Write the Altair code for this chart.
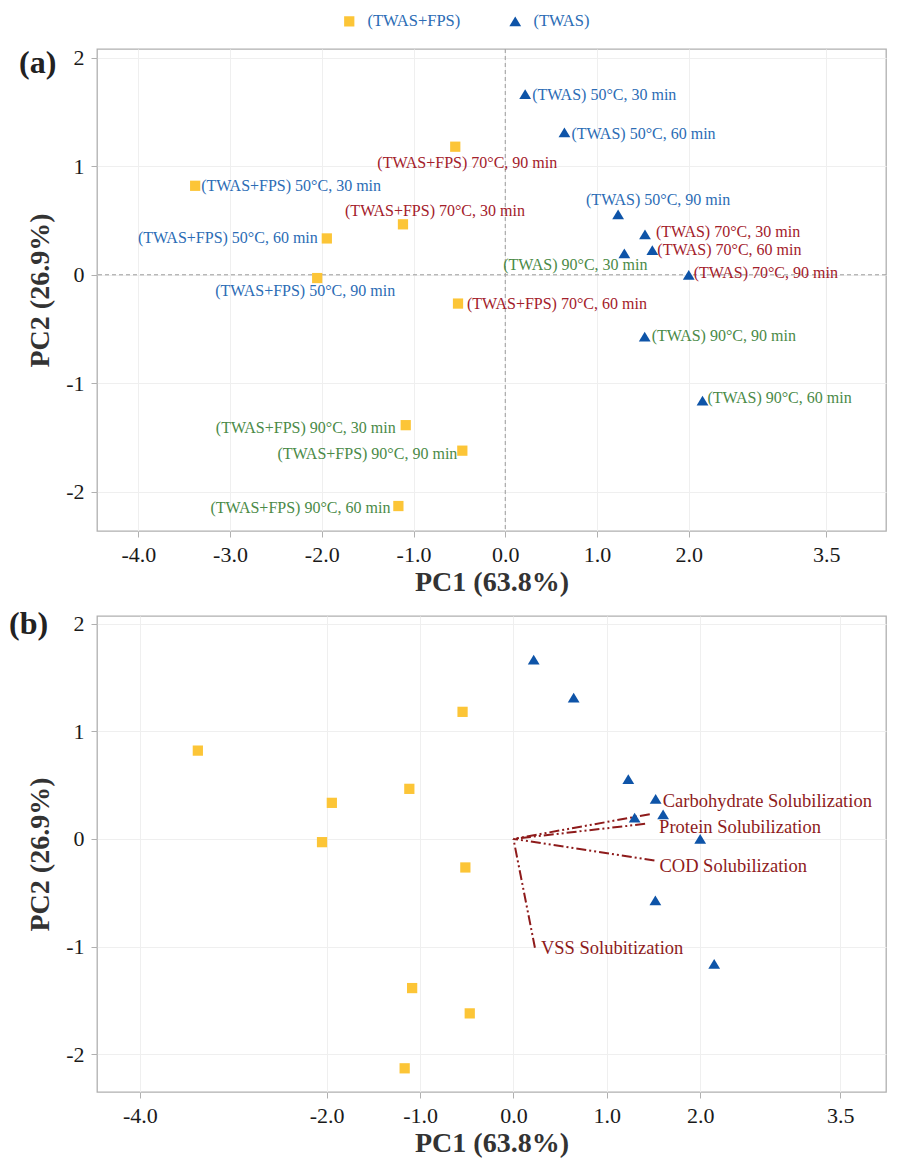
import altair as alt
import pandas as pd

# ---------------- data ----------------
groups = ["(TWAS+FPS)", "(TWAS)"]
temps = [50, 50, 50, 70, 70, 70, 90, 90, 90]
times = [30, 60, 90, 30, 60, 90, 30, 60, 90]
pc1_fps = [-3.38, -1.945, -2.05, -1.115, -0.515, -0.545, -1.085, -1.165, -0.468]
pc2_fps = [0.82, 0.335, -0.03, 0.465, -0.265, 1.18, -1.385, -2.13, -1.62]
pc1_twas = [0.217, 0.645, 1.23, 1.523, 1.603, 2.0, 1.298, 2.15, 1.52]
pc2_twas = [1.665, 1.313, 0.556, 0.372, 0.228, 0.0, 0.198, -1.16, -0.57]

loading_names = ["Carbohydrate Solubilization", "Protein Solubilization",
                 "COD Solubilization", "VSS Solubitization"]
loading_pc1 = [1.46, 1.41, 1.51, 0.23]
loading_pc2 = [0.23, 0.14, -0.20, -1.01]

x_ticks_a = [-4, -3, -2, -1, 0, 1, 2, 3.5]
x_ticks_b = [-4, -2, -1, 0, 1, 2, 3.5]
y_ticks = [-2, -1, 0, 1, 2]

# ---------------- styling ----------------
FONT = "Liberation Serif"
YEL = "#FCC537"
BLU = "#0E54A8"
TEMP_COLORS = {50: "#2b6cb5", 70: "#a3202a", 90: "#4a8a47"}
LOAD_COLOR = "#8e1b1b"
TRIANGLE = "M0,-0.95L-1.15,0.95L1.15,0.95Z"
W = 789
HA, HB = 482, 476

# label placement (align, dx, dy) in the same order as the score rows
label_place = [
    ("left", 6, 0), ("right", -9, 0), ("center", -12, 13),
    ("center", 32, -13), ("left", 9, 0), ("center", 12, 16),
    ("right", -10, 3), ("right", -8, 2), ("right", -5, 3),
    ("left", 7, 1), ("left", 7, 2), ("center", 40, -14),
    ("left", 11, -2), ("left", 5, 0), ("left", 5, -2),
    ("center", -49, 12), ("left", 5, -3), ("left", 7, -1),
]
load_place = [(13, -13), (14, 3), (5, 6), (6, 0)]

rows = []
for g, xs, ys in ((groups[0], pc1_fps, pc2_fps), (groups[1], pc1_twas, pc2_twas)):
    for t, m, x, y in zip(temps, times, xs, ys):
        rows.append({"group": g, "temp": t, "time": m, "PC1": x, "PC2": y,
                     "label": f"{g} {t}°C, {m} min"})
scores = pd.DataFrame(rows)

loads = pd.DataFrame({"name": loading_names, "PC1": loading_pc1,
                      "PC2": loading_pc2, "x0": 0.0, "y0": 0.0})

XLAB = "(datum.value < 0 ? '-' : '') + format(abs(datum.value), '.1f')"
YLAB = "(datum.value < 0 ? '-' : '') + format(abs(datum.value), 'd')"


def enc_xy(xdom, xticks, ydom):
    X = alt.X("PC1:Q", scale=alt.Scale(domain=xdom, nice=False, zero=False),
              axis=alt.Axis(values=xticks, title="PC1 (63.8%)", labelExpr=XLAB,
                            titlePadding=3))
    Y = alt.Y("PC2:Q", scale=alt.Scale(domain=ydom, nice=False, zero=False),
              axis=alt.Axis(values=y_ticks, title="PC2 (26.9%)", labelExpr=YLAB,
                            titlePadding=11))
    return X, Y


def points(X, Y, with_legend):
    if with_legend:
        leg = alt.Legend(orient="none", legendX=244, legendY=-36, direction="horizontal",
                         title=None, labelFont=FONT, labelFontSize=16.5,
                         labelColor=TEMP_COLORS[50], symbolSize=105,
                         columnPadding=46, labelOffset=10)
    else:
        leg = None
    return alt.Chart(scores).mark_point(filled=True, opacity=1, size=105).encode(
        x=X, y=Y,
        color=alt.Color("group:N", scale=alt.Scale(domain=groups, range=[YEL, BLU]), legend=leg),
        shape=alt.Shape("group:N", scale=alt.Scale(domain=groups, range=["square", TRIANGLE]),
                        legend=leg),
    )


def tag(txt, x, y):
    return alt.Chart(pd.DataFrame({"tag": [txt]})).mark_text(
        align="left", baseline="middle", font=FONT, fontSize=32, fontWeight="bold",
        color="#222222").encode(text="tag:N", x=alt.value(x), y=alt.value(y))


# ---------------- panel (a) ----------------
Xa, Ya = enc_xy([-4.45, 4.15], x_ticks_a, [-2.36, 2.08])
ref_v = alt.Chart(pd.DataFrame({"PC1": [0.0]})).mark_rule(
    color="#9a9a9a", strokeDash=[4, 3], strokeWidth=1).encode(x=Xa)
ref_h = alt.Chart(pd.DataFrame({"PC2": [0.0]})).mark_rule(
    color="#9a9a9a", strokeDash=[4, 3], strokeWidth=1).encode(y=Ya)

layers_a = [ref_v, ref_h, points(Xa, Ya, True)]
for i, r in scores.iterrows():
    al, dx, dy = label_place[i]
    layers_a.append(
        alt.Chart(scores).transform_filter(alt.datum.label == r["label"]).mark_text(
            align=al, baseline="middle", dx=dx, dy=dy, font=FONT, fontSize=16,
            color=TEMP_COLORS[r["temp"]]).encode(x=Xa, y=Ya, text="label:N"))
layers_a.append(tag("(a)", -78, 14))
panel_a = alt.layer(*layers_a).properties(width=W, height=HA)

# ---------------- panel (b) ----------------
Xb, Yb = enc_xy([-4.46, 3.99], x_ticks_b, [-2.35, 2.07])
arrows = alt.Chart(loads).mark_rule(
    color=LOAD_COLOR, strokeWidth=2, strokeDash=[10, 3, 2, 3, 2, 3]).encode(
    x=Xb, y=Yb, x2="x0:Q", y2="y0:Q")
layers_b = [arrows, points(Xb, Yb, False)]
for i, r in loads.iterrows():
    dx, dy = load_place[i]
    layers_b.append(
        alt.Chart(loads).transform_filter(alt.datum.name == r["name"]).mark_text(
            align="left", baseline="middle", dx=dx, dy=dy, font=FONT, fontSize=18.5,
            color=LOAD_COLOR).encode(x=Xb, y=Yb, text="name:N"))
layers_b.append(tag("(b)", -88, 8))
panel_b = alt.layer(*layers_b).properties(width=W, height=HB)

chart = alt.vconcat(panel_a, panel_b, spacing=10).resolve_scale(
    color="independent", shape="independent"
).properties(
    padding={"left": 0, "top": 4, "right": 5, "bottom": 0},
    background="white",
).configure_view(
    stroke="#b0b0b0", strokeWidth=1.3
).configure_axis(
    domain=False, grid=True, gridColor="#efefef", gridWidth=1,
    tickColor="#b0b0b0", tickSize=6, tickWidth=1,
    labelFont=FONT, labelFontSize=22, labelColor="#1a1a1a", labelPadding=7,
    titleFont=FONT, titleFontSize=28, titleFontWeight="bold", titleColor="#333333",
)

chart.save("out.html", embed_options={"renderer": "svg", "actions": False})
